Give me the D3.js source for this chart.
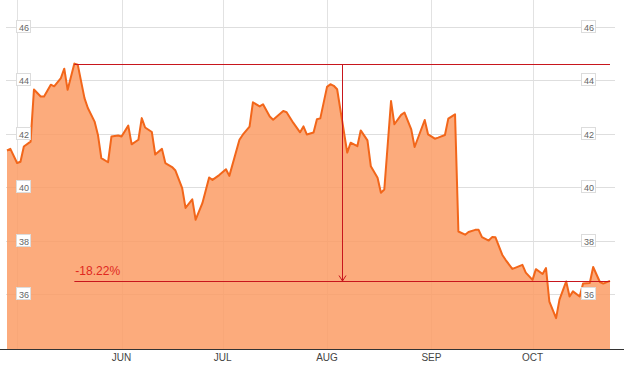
<!DOCTYPE html>
<html>
<head>
<meta charset="utf-8">
<script src="https://cdn.jsdelivr.net/npm/d3@7"></script>
<style>
    body { margin: 0; background: #fff; }
    text { font-family: Arial, "Liberation Sans", sans-serif; }
</style>
</head>
<body>
<div id="chart"></div>
<script>

const dates = [
    '2015-04-28', '2015-04-29', '2015-05-01', '2015-05-02', '2015-05-03', '2015-05-05', '2015-05-06',
    '2015-05-08', '2015-05-09', '2015-05-11', '2015-05-12', '2015-05-14', '2015-05-15', '2015-05-16',
    '2015-05-18', '2015-05-19', '2015-05-21', '2015-05-22', '2015-05-24', '2015-05-25', '2015-05-26',
    '2015-05-28', '2015-05-29', '2015-05-31', '2015-06-01', '2015-06-03', '2015-06-04', '2015-06-06',
    '2015-06-07', '2015-06-08', '2015-06-10', '2015-06-11', '2015-06-13', '2015-06-14', '2015-06-16',
    '2015-06-17', '2015-06-19', '2015-06-20', '2015-06-22', '2015-06-23', '2015-06-25', '2015-06-27',
    '2015-06-28', '2015-06-30', '2015-07-02', '2015-07-03', '2015-07-06', '2015-07-07', '2015-07-09',
    '2015-07-10', '2015-07-12', '2015-07-13', '2015-07-15', '2015-07-16', '2015-07-19', '2015-07-20',
    '2015-07-22', '2015-07-24', '2015-07-25', '2015-07-26', '2015-07-28', '2015-07-29', '2015-07-30',
    '2015-08-01', '2015-08-02', '2015-08-03', '2015-08-04', '2015-08-07', '2015-08-08', '2015-08-10',
    '2015-08-11', '2015-08-13', '2015-08-14', '2015-08-16', '2015-08-17', '2015-08-18', '2015-08-20',
    '2015-08-21', '2015-08-23', '2015-08-24', '2015-08-26', '2015-08-27', '2015-08-30', '2015-08-31',
    '2015-09-02', '2015-09-03', '2015-09-05', '2015-09-06', '2015-09-08', '2015-09-09', '2015-09-11',
    '2015-09-12', '2015-09-14', '2015-09-15', '2015-09-16', '2015-09-18', '2015-09-19', '2015-09-20',
    '2015-09-22', '2015-09-23', '2015-09-25', '2015-09-26', '2015-09-28', '2015-09-29', '2015-10-01',
    '2015-10-02', '2015-10-04', '2015-10-05', '2015-10-06', '2015-10-08', '2015-10-09', '2015-10-11',
    '2015-10-12', '2015-10-13', '2015-10-15', '2015-10-16', '2015-10-18', '2015-10-19', '2015-10-21',
    '2015-10-22', '2015-10-24'
];

const prices = [
    41.37, 41.43, 40.90, 40.95, 41.52, 41.70, 43.65,
    43.39, 43.39, 43.83, 43.77, 44.08, 44.43, 43.64,
    44.62, 44.58, 43.33, 42.96, 42.45, 41.95, 41.08,
    40.93, 41.89, 41.93, 41.89, 42.30, 41.60, 41.77,
    42.58, 42.23, 42.06, 41.22, 41.43, 40.90, 40.75,
    40.62, 39.96, 39.22, 39.54, 38.78, 39.40, 40.36,
    40.27, 40.45, 40.67, 40.42, 41.77, 41.96, 42.26,
    43.17, 43.02, 43.10, 42.64, 42.52, 42.85, 42.80,
    42.40, 42.05, 42.27, 41.97, 42.04, 42.54, 42.57,
    43.75, 43.85, 43.79, 43.66, 41.29, 41.66, 41.53,
    42.12, 41.75, 40.78, 40.35, 39.79, 39.91, 43.22,
    42.35, 42.70, 42.79, 42.16, 41.50, 42.51, 41.97,
    41.81, 41.85, 41.95, 42.56, 42.72, 38.34, 38.22,
    38.32, 38.40, 38.40, 38.13, 38.00, 38.13, 38.12,
    37.47, 37.28, 36.94, 36.99, 37.09, 36.80, 36.53,
    36.93, 36.75, 36.97, 35.72, 35.10, 35.79, 36.47,
    35.91, 36.10, 35.91, 36.39, 36.41, 37.01, 36.45,
    36.39, 36.49
];

const yTicks = [36, 38, 40, 42, 44, 46];
const yDomain = [34, 46];

const w = 626;
const h = 368;
const plotBottom = 349;

const parse = d3.timeParse('%Y-%m-%d');
const data = dates.map((d, i) => ({date: parse(d), value: prices[i]}));

const x = d3.scaleTime()
    .domain(d3.extent(data, d => d.date))
    .range([7, 610]);

const y = d3.scaleLinear()
    .domain(yDomain)
    .range([347.5, 26.7]);

const svg = d3.select('#chart').append('svg')
    .attr('width', w)
    .attr('height', h);

// grid
const months = x.ticks(d3.timeMonth.every(1));

svg.append('g')
    .selectAll('line')
    .data(months)
    .enter()
    .append('line')
    .attr('x1', d => Math.round(x(d)) + 0.5)
    .attr('x2', d => Math.round(x(d)) + 0.5)
    .attr('y1', 0)
    .attr('y2', plotBottom)
    .attr('stroke', '#e2e2e2');

svg.append('g')
    .selectAll('line')
    .data(yTicks)
    .enter()
    .append('line')
    .attr('x1', 6)
    .attr('x2', 615)
    .attr('y1', d => Math.round(y(d)) + 0.5)
    .attr('y2', d => Math.round(y(d)) + 0.5)
    .attr('stroke', '#dedede');

// area + line
const area = d3.area()
    .x(d => x(d.date))
    .y0(plotBottom)
    .y1(d => y(d.value));

const line = d3.line()
    .x(d => x(d.date))
    .y(d => y(d.value));

svg.append('path')
    .datum(data)
    .attr('d', area)
    .attr('fill', '#fc9c65')
    .attr('fill-opacity', 0.85);

svg.append('path')
    .datum(data)
    .attr('d', line)
    .attr('fill', 'none')
    .attr('stroke', '#f2661a')
    .attr('stroke-width', 2)
    .attr('stroke-linejoin', 'round');

// max -> last annotation
const maxPt = data.reduce((a, b) => b.value > a.value ? b : a);
const lastPt = data[data.length - 1];
const x0 = x(maxPt.date);
const x1 = x(lastPt.date);
const xm = Math.round((x0 + x1) / 2) + 0.5;
const yMax = Math.round(y(maxPt.value)) + 0.5;
const yLast = Math.round(y(lastPt.value)) + 0.5;
const red = '#c8161d';

const ann = svg.append('g')
    .attr('stroke', red)
    .attr('fill', 'none');

ann.append('line')
    .attr('x1', x0).attr('x2', x1)
    .attr('y1', yMax).attr('y2', yMax);

ann.append('line')
    .attr('x1', x0).attr('x2', x1)
    .attr('y1', yLast).attr('y2', yLast);

ann.append('line')
    .attr('x1', xm).attr('x2', xm)
    .attr('y1', yMax).attr('y2', yLast);

ann.append('path')
    .attr('d', `M${xm - 3.5},${yLast - 6}L${xm},${yLast - 0.5}L${xm + 3.5},${yLast - 6}`);

const pct = (lastPt.value - maxPt.value) / maxPt.value * 100;

svg.append('text')
    .attr('x', x0 + 1)
    .attr('y', yLast - 7)
    .attr('fill', '#e0281e')
    .style('font-size', '12px')
    .text(`${pct.toFixed(2)}%`);

// y labels both sides
function yLabels(cx) {
    const g = svg.append('g')
        .selectAll('g')
        .data(yTicks)
        .enter()
        .append('g')
        .attr('transform', d => `translate(${cx},${Math.round(y(d))})`);

    g.append('rect')
        .attr('x', -7.5)
        .attr('y', -6.5)
        .attr('width', 14)
        .attr('height', 12)
        .attr('fill', '#fff')
        .attr('stroke', '#dcdcdc');

    g.append('text')
        .attr('text-anchor', 'middle')
        .attr('y', 3.5)
        .attr('fill', '#666')
        .style('font-size', '9px')
        .text(d => d);
}

yLabels(24);
yLabels(589);

// bottom axis
svg.append('line')
    .attr('x1', 0)
    .attr('x2', 624)
    .attr('y1', plotBottom + 0.5)
    .attr('y2', plotBottom + 0.5)
    .attr('stroke', '#333');

svg.append('g')
    .selectAll('text')
    .data(months.filter(d => x(d) > 40))
    .enter()
    .append('text')
    .attr('x', d => x(d))
    .attr('y', 361)
    .attr('text-anchor', 'middle')
    .attr('fill', '#444')
    .style('font-size', '10px')
    .text(d => d3.timeFormat('%b')(d).toUpperCase());

</script>
</body>
</html>
